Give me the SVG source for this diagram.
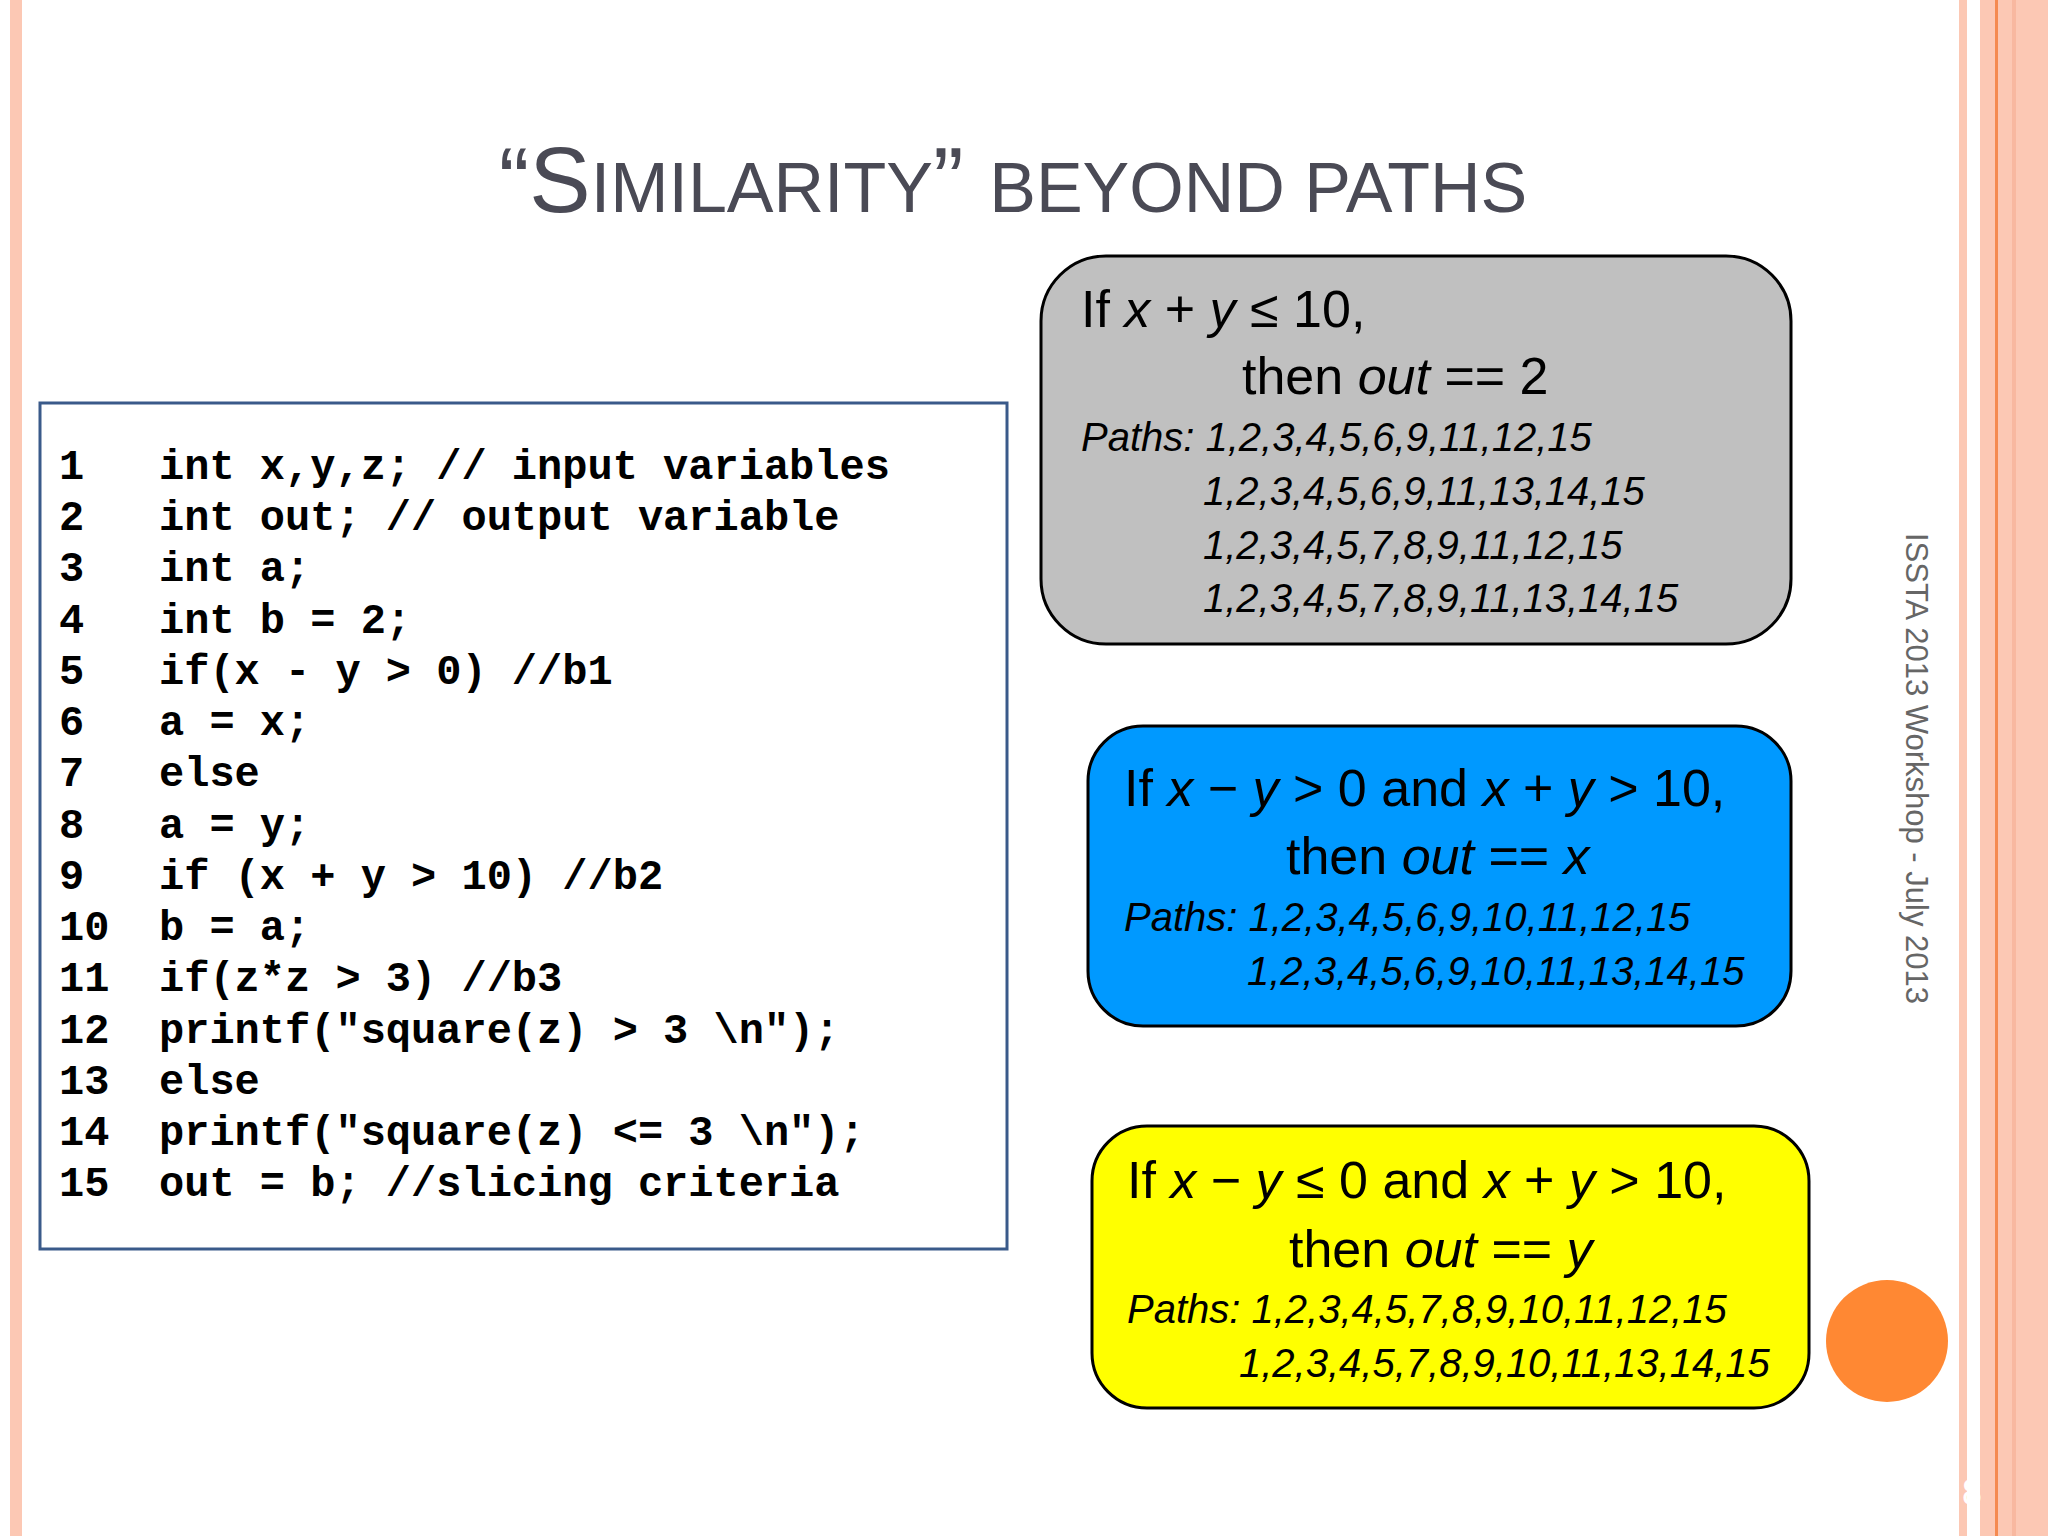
<svg xmlns="http://www.w3.org/2000/svg" width="2048" height="1536" viewBox="0 0 2048 1536">
<style>
.code{font-family:"Liberation Mono",monospace;font-weight:bold;font-size:42px;fill:#000}
.big{font-family:"Liberation Sans",Arial,sans-serif;font-size:52px;fill:#000}
.path{font-family:"Liberation Sans",Arial,sans-serif;font-size:40px;font-style:italic;fill:#000}
.box{stroke:#000;stroke-width:3}
</style>
<rect width="2048" height="1536" fill="#fff"/>
<rect x="10" y="0" width="12" height="1536" fill="#fcc8b4"/>
<rect x="1959" y="0" width="8" height="1536" fill="#fcc8b4"/>
<rect x="1980" y="0" width="68" height="1536" fill="#fcc8b4"/>
<rect x="1995" y="0" width="3" height="1536" fill="#f58a50"/>
<rect x="2012" y="0" width="4" height="1536" fill="#f8b8a0"/>
<text x="1013" y="212" text-anchor="middle" font-family="Liberation Sans,Arial,sans-serif" fill="#4a4a55" font-size="92">“S<tspan font-size="70">IMILARITY</tspan>” <tspan font-size="70">BEYOND PATHS</tspan></text>
<g id="code">
<rect x="40" y="403" width="967" height="846" fill="#fff" stroke="#3a5a8a" stroke-width="3"/>
<g class="code">
<text x="59" y="479">1</text><text x="159" y="479">int x,y,z; // input variables</text>
<text x="59" y="530">2</text><text x="159" y="530">int out; // output variable</text>
<text x="59" y="581">3</text><text x="159" y="581">int a;</text>
<text x="59" y="633">4</text><text x="159" y="633">int b = 2;</text>
<text x="59" y="684">5</text><text x="159" y="684">if(x - y &gt; 0) //b1</text>
<text x="59" y="735">6</text><text x="159" y="735">    a = x;</text>
<text x="59" y="786">7</text><text x="159" y="786">else</text>
<text x="59" y="838">8</text><text x="159" y="838">    a = y;</text>
<text x="59" y="889">9</text><text x="159" y="889">if (x + y &gt; 10) //b2</text>
<text x="59" y="940">10</text><text x="159" y="940">    b = a;</text>
<text x="59" y="991">11</text><text x="159" y="991">if(z*z &gt; 3) //b3</text>
<text x="59" y="1043">12</text><text x="159" y="1043">    printf("square(z) &gt; 3 \n");</text>
<text x="59" y="1094">13</text><text x="159" y="1094">else</text>
<text x="59" y="1145">14</text><text x="159" y="1145">    printf("square(z) &lt;= 3 \n");</text>
<text x="59" y="1196">15</text><text x="159" y="1196">out = b; //slicing criteria</text>
</g>
</g>
<g id="gray">
<rect class="box" x="1041" y="256" width="750" height="388" rx="65" fill="#c0c0c0"/>
<text class="big" x="1081" y="327">If <tspan font-style="italic">x</tspan> + <tspan font-style="italic">y</tspan> ≤ 10,</text>
<text class="big" x="1242" y="394">then <tspan font-style="italic">out</tspan> == 2</text>
<text class="path" x="1081" y="451">Paths: 1,2,3,4,5,6,9,11,12,15</text>
<text class="path" x="1203" y="505">1,2,3,4,5,6,9,11,13,14,15</text>
<text class="path" x="1203" y="559">1,2,3,4,5,7,8,9,11,12,15</text>
<text class="path" x="1203" y="612">1,2,3,4,5,7,8,9,11,13,14,15</text>
</g>
<g id="blue">
<rect class="box" x="1088" y="726" width="703" height="300" rx="55" fill="#0099ff"/>
<text class="big" x="1124" y="806">If <tspan font-style="italic">x</tspan> − <tspan font-style="italic">y</tspan> &gt; 0 and <tspan font-style="italic">x</tspan> + <tspan font-style="italic">y</tspan> &gt; 10,</text>
<text class="big" x="1286" y="874">then <tspan font-style="italic">out</tspan> == <tspan font-style="italic">x</tspan></text>
<text class="path" x="1124" y="931">Paths: 1,2,3,4,5,6,9,10,11,12,15</text>
<text class="path" x="1247" y="985">1,2,3,4,5,6,9,10,11,13,14,15</text>
</g>
<g id="yellow">
<rect class="box" x="1092" y="1126" width="717" height="282" rx="55" fill="#ffff00"/>
<text class="big" x="1127" y="1198">If <tspan font-style="italic">x</tspan> − <tspan font-style="italic">y</tspan> ≤ 0 and <tspan font-style="italic">x</tspan> + <tspan font-style="italic">y</tspan> &gt; 10,</text>
<text class="big" x="1289" y="1267">then <tspan font-style="italic">out</tspan> == <tspan font-style="italic">y</tspan></text>
<text class="path" x="1127" y="1323">Paths: 1,2,3,4,5,7,8,9,10,11,12,15</text>
<text class="path" x="1239" y="1377">1,2,3,4,5,7,8,9,10,11,13,14,15</text>
</g>
<circle cx="1887" cy="1341" r="61" fill="#ff8833"/>
<text transform="translate(1906,533) rotate(90)" font-family="Liberation Sans,Arial,sans-serif" font-size="31" fill="#666">ISSTA 2013 Workshop - July 2013</text>
<text x="1972" y="1505" font-family="Liberation Sans,Arial,sans-serif" font-size="36" fill="#fff" text-anchor="middle">8</text>
<g id="connectors"/>
</svg>
